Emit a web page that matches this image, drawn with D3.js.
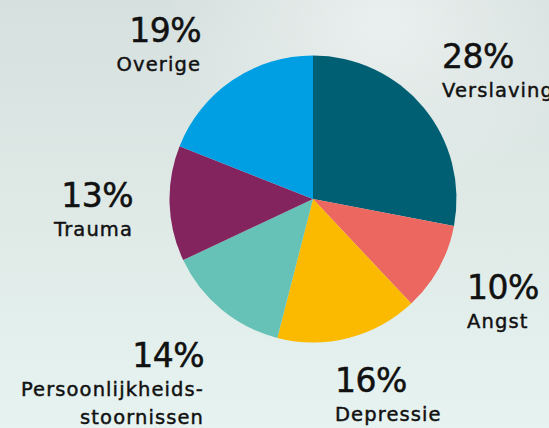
<!DOCTYPE html>
<html lang="nl">
<head>
    <meta charset="UTF-8">
    <title>Verdeling</title>
    <style>
        body { margin: 0; overflow: hidden; }
    </style>
</head>
<body>
    <script src="https://cdn.jsdelivr.net/npm/d3@7/dist/d3.min.js"></script>
    <script>
        const largeur = 549;
        const hauteur = 428;

        // données
        const categories = ["Verslaving", "Angst", "Depressie", "Persoonlijkheids-stoornissen", "Trauma", "Overige"];
        const pourcentages = [28, 10, 16, 14, 13, 19];
        const couleurs = ["#005f73", "#ec675f", "#fbb900", "#66c1b7", "#83245e", "#009ee2"];
        // lignes du libellé (Persoonlijkheids- / stoornissen sur deux lignes)
        const libelles = [["Verslaving"], ["Angst"], ["Depressie"], ["Persoonlijkheids-", "stoornissen"], ["Trauma"], ["Overige"]];

        // position des étiquettes (mise en page seulement)
        const placement = [
            { x: 442, y: 68, anchor: "start" },
            { x: 467, y: 299, anchor: "start" },
            { x: 335, y: 392, anchor: "start" },
            { x: 204, y: 367, anchor: "end" },
            { x: 133, y: 207, anchor: "end" },
            { x: 201, y: 42, anchor: "end" }
        ];

        const svg = d3.select("body")
            .append("svg")
            .attr("width", largeur)
            .attr("height", hauteur);

        // fond
        const defs = svg.append("defs");
        const grad = defs.append("linearGradient")
            .attr("id", "fond")
            .attr("x1", 0).attr("y1", 0).attr("x2", 0).attr("y2", 1);
        grad.append("stop").attr("offset", "0%").attr("stop-color", "#d6e0de");
        grad.append("stop").attr("offset", "55%").attr("stop-color", "#e0ebe8");
        grad.append("stop").attr("offset", "100%").attr("stop-color", "#e6f3f0");
        const halo = defs.append("radialGradient")
            .attr("id", "halo")
            .attr("cx", 0.7).attr("cy", 0.05).attr("r", 0.4);
        halo.append("stop").attr("offset", "0%").attr("stop-color", "#eef3f2").attr("stop-opacity", 0.8);
        halo.append("stop").attr("offset", "100%").attr("stop-color", "#eef3f2").attr("stop-opacity", 0);

        svg.append("rect").attr("width", largeur).attr("height", hauteur).attr("fill", "url(#fond)");
        svg.append("rect").attr("width", largeur).attr("height", hauteur).attr("fill", "url(#halo)");

        // camembert
        const rayon = 143.5;
        const centre = svg.append("g").attr("transform", "translate(313,199)");

        const pie = d3.pie().sort(null).value(d => d);
        const arc = d3.arc().innerRadius(0).outerRadius(rayon);

        centre.selectAll("path")
            .data(pie(pourcentages))
            .join("path")
            .attr("d", arc)
            .attr("fill", (d, i) => couleurs[i]);

        // étiquettes
        const etiquettes = svg.append("g")
            .selectAll("g")
            .data(pourcentages)
            .join("g")
            .attr("transform", (d, i) => "translate(" + placement[i].x + "," + placement[i].y + ")")
            .attr("text-anchor", (d, i) => placement[i].anchor)
            .attr("font-family", "DejaVu Sans, sans-serif")
            .attr("fill", "#111");

        etiquettes.append("text")
            .style("font-size", "33px")
            .style("letter-spacing", "-0.5px")
            .attr("stroke", "#111")
            .attr("stroke-width", 0.5)
            .text(d => d + "%");

        etiquettes.each(function (d, i) {
            const g = d3.select(this);
            libelles[i].forEach((ligne, j) => {
                g.append("text")
                    .attr("y", 29 + j * 28)
                    .style("font-size", "19.5px")
                    .style("letter-spacing", "1.1px")
                    .attr("stroke", "#111")
                    .attr("stroke-width", 0.45)
                    .text(ligne);
            });
        });
    </script>
</body>
</html>
